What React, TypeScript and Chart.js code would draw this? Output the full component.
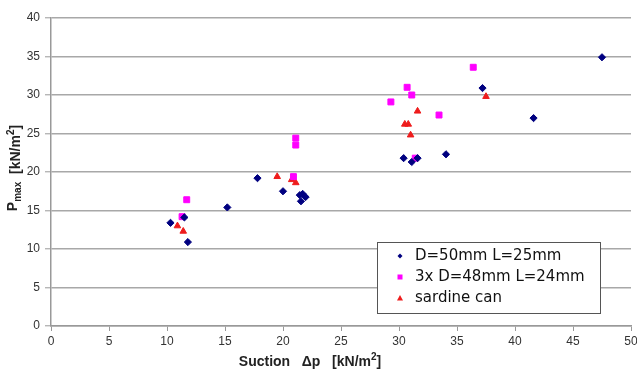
import React, { useEffect, useRef } from "react";
import { Chart, registerables } from "chart.js";

Chart.register(...registerables);

// ---- data ----
const seriesLabels = ["D=50mm L=25mm", "3x D=48mm L=24mm", "sardine can"];

const blueX = [47.5, 37.2, 41.6, 34.05, 30.4, 31.1, 31.6, 17.8, 20.0, 21.45, 21.7, 21.95, 21.55, 15.2, 10.3, 11.5, 11.8];
const blueY = [34.9, 30.9, 27.0, 22.3, 21.8, 21.3, 21.8, 19.2, 17.5, 17.0, 17.15, 16.75, 16.2, 15.4, 13.4, 14.1, 10.9];

const magentaX = [36.4, 30.7, 31.1, 29.3, 33.45, 31.4, 21.1, 21.1, 20.9, 11.7, 11.3];
const magentaY = [33.6, 31.0, 30.0, 29.1, 27.4, 21.8, 24.4, 23.5, 19.4, 16.4, 14.2];

const redX = [37.5, 31.6, 30.5, 30.8, 31.0, 19.5, 20.75, 21.1, 10.9, 11.4];
const redY = [29.8, 27.9, 26.2, 26.2, 24.8, 19.4, 19.0, 18.6, 13.0, 12.3];

const xMin = 0, xMax = 50, xStep = 5;
const yMin = 0, yMax = 40, yStep = 5;

const colors = ["#000080", "#ff00ff", "#ee1c1c"];

const toPoints = (xs: number[], ys: number[]) => xs.map((x, i) => ({ x, y: ys[i] }));

type Part = { t: string; k: "n" | "sub" | "sup" | "low" };

function drawRich(ctx: CanvasRenderingContext2D, parts: Part[], cx: number, cy: number, size: number) {
  const big = `bold ${size}px "Liberation Sans", Arial, sans-serif`;
  const small = `bold ${Math.round(size * 0.68)}px "Liberation Sans", Arial, sans-serif`;
  const isSmall = (k: string) => k === "sub" || k === "sup";
  let total = 0;
  const widths = parts.map((p) => {
    ctx.font = isSmall(p.k) ? small : big;
    const w = ctx.measureText(p.t).width;
    total += w;
    return w;
  });
  let x = cx - total / 2;
  ctx.textBaseline = "alphabetic";
  ctx.textAlign = "left";
  const base = cy + size * 0.36;
  parts.forEach((p, i) => {
    ctx.font = isSmall(p.k) ? small : big;
    let y = base;
    if (p.k === "sub") y = base + size * 0.3;
    if (p.k === "low") y = base + size * 0.22;
    if (p.k === "sup") y = base - size * 0.42 + (parts[i - 1] && parts[i - 1].k === "low" ? size * 0.22 : 0);
    ctx.fillText(p.t, x, y);
    x += widths[i];
  });
}

const overlayPlugin = {
  id: "overlay",
  afterDraw(chart: any) {
    const ctx: CanvasRenderingContext2D = chart.ctx;
    ctx.save();
    ctx.fillStyle = "#222";
    // x title
    drawRich(
      ctx,
      [
        { t: "Suction   \u0394p   [kN/m", k: "n" },
        { t: "2", k: "sup" },
        { t: "]", k: "n" },
      ],
      310,
      361,
      14
    );
    // y title
    ctx.save();
    ctx.translate(12, 168);
    ctx.rotate(-Math.PI / 2);
    drawRich(
      ctx,
      [
        { t: "P", k: "n" },
        { t: "max", k: "sub" },
        { t: "  [kN/m", k: "low" },
        { t: "2", k: "sup" },
        { t: "]", k: "low" },
      ],
      0,
      0,
      14
    );
    ctx.restore();

    // legend box
    const bx = 377.5, by = 242.5, bw = 223, bh = 71;
    ctx.fillStyle = "#ffffff";
    ctx.fillRect(bx, by, bw, bh);
    ctx.strokeStyle = "#555";
    ctx.lineWidth = 1;
    ctx.strokeRect(bx, by, bw, bh);
    const rows = [256, 277, 298];
    const mx = 400;
    ctx.font = `15px "DejaVu Sans", sans-serif`;
    ctx.textBaseline = "middle";
    ctx.textAlign = "left";
    rows.forEach((ry, i) => {
      ctx.fillStyle = colors[i];
      ctx.beginPath();
      if (i === 0) {
        ctx.moveTo(mx, ry - 2.5);
        ctx.lineTo(mx + 2.5, ry);
        ctx.lineTo(mx, ry + 2.5);
        ctx.lineTo(mx - 2.5, ry);
        ctx.closePath();
        ctx.fill();
      } else if (i === 1) {
        ctx.fillRect(mx - 2.5, ry - 2.5, 5, 5);
      } else {
        ctx.moveTo(mx, ry - 3);
        ctx.lineTo(mx + 3, ry + 2.5);
        ctx.lineTo(mx - 3, ry + 2.5);
        ctx.closePath();
        ctx.fill();
      }
      ctx.fillStyle = "#111";
      ctx.fillText(seriesLabels[i], 415, ry + 0.5);
    });
    ctx.restore();
  },
};

export default function App() {
  const ref = useRef<HTMLCanvasElement>(null);
  useEffect(() => {
    if (!ref.current) return;
    const tickFont = { family: '"Liberation Sans", Arial, sans-serif', size: 12 };
    const chart = new Chart(ref.current, {
      type: "scatter",
      data: {
        datasets: [
          {
            label: seriesLabels[0],
            data: toPoints(blueX, blueY),
            pointStyle: "rectRot",
            pointRadius: 3.6,
            backgroundColor: colors[0],
            borderColor: colors[0],
            borderWidth: 1,
          },
          {
            label: seriesLabels[1],
            data: toPoints(magentaX, magentaY),
            pointStyle: "rect",
            pointRadius: 4.2,
            backgroundColor: colors[1],
            borderColor: colors[1],
            borderWidth: 1,
          },
          {
            label: seriesLabels[2],
            data: toPoints(redX, redY),
            pointStyle: "triangle",
            pointRadius: 3.8,
            backgroundColor: colors[2],
            borderColor: colors[2],
            borderWidth: 1,
          },
        ],
      },
      options: {
        responsive: false,
        animation: false,
        events: [],
        layout: { padding: { left: 0, right: 6, top: 18, bottom: 0 } },
        plugins: { legend: { display: false }, tooltip: { enabled: false } },
        scales: {
          x: {
            type: "linear",
            min: xMin,
            max: xMax,
            ticks: { stepSize: xStep, font: tickFont, color: "#333", padding: 3 },
            grid: { drawOnChartArea: false, drawTicks: true, tickLength: 5, color: "#999", lineWidth: 1 },
            border: { color: "#999", width: 1.5 },
            afterFit: (s: any) => {
              s.height = 46;
              s.paddingLeft = 0;
              s.paddingRight = 0;
            },
          },
          y: {
            type: "linear",
            min: yMin,
            max: yMax,
            ticks: { stepSize: yStep, font: tickFont, color: "#333", padding: 5 },
            grid: { drawOnChartArea: true, drawTicks: true, tickLength: 6, color: "#a8a8a8", lineWidth: 1.6, tickColor: "#999", tickWidth: 1 } as any,
            border: { color: "#999", width: 1.5 },
            afterFit: (s: any) => {
              s.width = 51;
              s.paddingTop = 0;
              s.paddingBottom = 0;
            },
          },
        },
      },
      plugins: [overlayPlugin],
    });
    return () => chart.destroy();
  }, []);
  return (
    <div style={{ position: "absolute", left: 0, top: 0, width: 637, height: 372, background: "#fff" }}>
      <canvas ref={ref} width={637} height={372} />
    </div>
  );
}
